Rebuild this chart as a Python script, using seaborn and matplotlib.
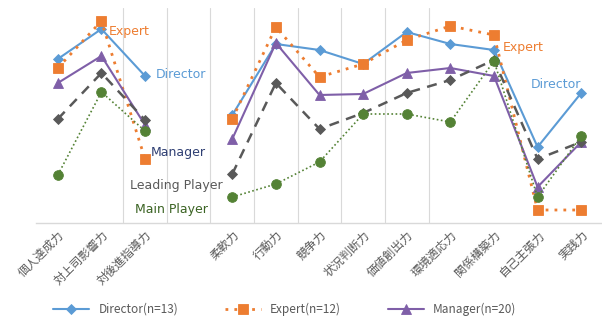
import numpy as np
import pandas as pd
import matplotlib
matplotlib.use("Agg")
import matplotlib.pyplot as plt
import seaborn as sns

# Competency categories (empty slot separates the two groups)
categories = ["個人達成力", "対上司影響力", "対後進指導力", "",
              "柔軟力", "行動力", "競争力", "状況判断力", "価値創出力",
              "環境適応力", "関係構築力", "自己主張力", "実践力"]

director = [4.28, 4.88, 3.94, np.nan, 3.16, 4.58, 4.46, 4.18, 4.82, 4.58, 4.46, 2.52, 3.60]
expert   = [4.10, 5.04, 2.28, np.nan, 3.08, 4.92, 3.92, 4.18, 4.66, 4.94, 4.76, 1.26, 1.26]
manager  = [3.80, 4.34, 2.96, np.nan, 2.68, 4.60, 3.56, 3.58, 4.00, 4.10, 3.94, 1.72, 2.62]
leading  = [3.08, 4.00, 3.06, np.nan, 1.98, 3.80, 2.88, 3.20, 3.60, 3.86, 4.26, 2.28, 2.62]
main     = [1.96, 3.62, 2.84, np.nan, 1.52, 1.78, 2.22, 3.18, 3.18, 3.02, 4.24, 1.52, 2.74]

legend_names = ["Director(n=13)", "Expert(n=12)", "Manager(n=20)", None, None]

sns.set_theme(style="white")
plt.rcParams["font.family"] = ["Noto Sans CJK JP", "DejaVu Sans"]

fig = plt.figure(figsize=(6.02, 3.26), dpi=100)
ax = fig.add_axes([36 / 602, 1 - 223 / 326, 567 / 602, 215 / 326])

styles = [
    dict(values=director, color="#5B9BD5", ls="-", lw=1.5, marker="D", ms=5),
    dict(values=expert, color="#ED7D31", ls=(0, (1, 2.2)), lw=2.0, marker="s", ms=7),
    dict(values=manager, color="#7F5FA8", ls="-", lw=1.5, marker="^", ms=6.5),
    dict(values=leading, color="#595959", ls=(0, (4, 3)), lw=1.8, marker="D", ms=5.5),
    dict(values=main, color="#548235", ls=(0, (1, 1.5)), lw=1.2, marker="o", ms=7),
]

pos = np.arange(len(categories))
segments = [(0, 3), (4, 13)]
for name, st in zip(legend_names, styles):
    vals = np.asarray(st["values"], dtype=float)
    for si, (a, b) in enumerate(segments):
        df = pd.DataFrame({"x": pos[a:b], "y": vals[a:b]})
        sns.lineplot(data=df, x="x", y="y", ax=ax, color=st["color"],
                     linestyle=st["ls"], linewidth=st["lw"], marker=st["marker"],
                     markersize=st["ms"], markeredgewidth=0.6,
                     markeredgecolor=st["color"],
                     label=(name if (name and si == 0) else None),
                     legend=False, sort=False, errorbar=None)

ax.set_xlim(-0.5, len(categories) - 0.5)
ax.set_ylim(1.0, 5.3)

# light separators between categories
for b in np.arange(1.5, 9.0, 1.0):
    ax.axvline(b, color="#D9D9D9", lw=0.8, zorder=0)

for s in ["top", "right", "left"]:
    ax.spines[s].set_visible(False)
ax.spines["bottom"].set_color("#D9D9D9")
ax.spines["bottom"].set_linewidth(1.0)

ax.set_yticks([])
ax.set_xticks(pos)
ax.set_xticklabels(categories, rotation=45, ha="right", rotation_mode="anchor",
                   fontsize=8.5, color="#595959")
ax.tick_params(axis="x", length=0, pad=4)
ax.set_xlabel("")
ax.set_ylabel("")

# series annotations
def px(xp, yp):
    return ax.transData.inverted().transform(fig.transFigure.transform((xp / 602, 1 - yp / 326)))

annots = [
    ("Expert", 109, 32, "#ED7D31"),
    ("Expert", 503, 48, "#ED7D31"),
    ("Director", 156, 75, "#5B9BD5"),
    ("Director", 531, 85, "#5B9BD5"),
    ("Manager", 151, 153, "#2F3F73"),
    ("Leading Player", 130, 186, "#595959"),
    ("Main Player", 135, 210, "#3B6323"),
]
for txt, xp, yp, c in annots:
    xd, yd = px(xp, yp)
    ax.text(xd, yd, txt, color=c, fontsize=9, ha="left", va="center",
            family=["DejaVu Sans"])

handles, labels = ax.get_legend_handles_labels()
fig.legend(handles, labels, loc="center", bbox_to_anchor=(285 / 602, 1 - 309 / 326),
           ncol=3, frameon=False, fontsize=8.5, handlelength=3.0, columnspacing=4.0,
           labelcolor="#595959")

fig.savefig("out.png", dpi=100)
